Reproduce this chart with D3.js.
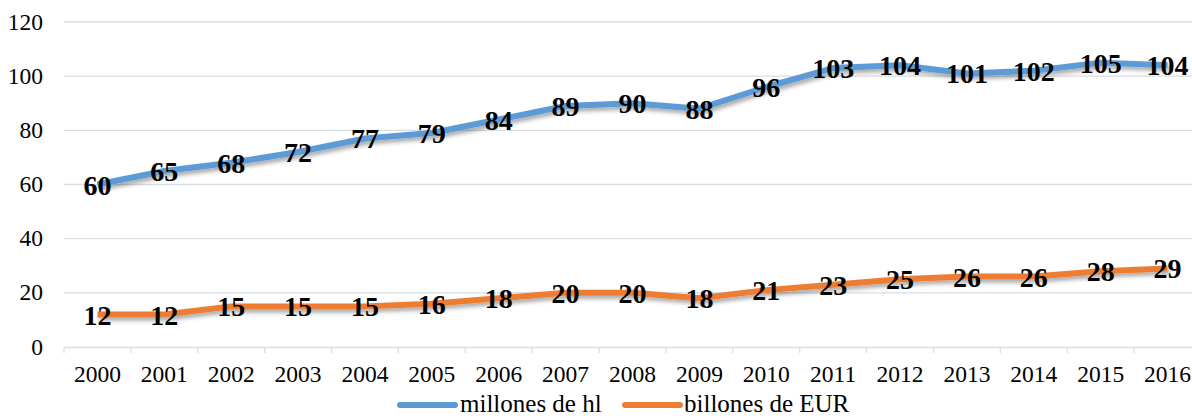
<!DOCTYPE html>
<html><head><meta charset="utf-8">
<script src="https://cdn.jsdelivr.net/npm/d3@7"></script>
<style>body{margin:0;background:#fff}svg{display:block}text{font-family:"Liberation Serif","Times New Roman",serif}</style>
</head><body>
<svg id="c" width="1192" height="418"></svg>
<script>
const years = ["2000","2001","2002","2003","2004","2005","2006","2007","2008","2009","2010","2011","2012","2013","2014","2015","2016"];
const millonesHl = [60,65,68,72,77,79,84,89,90,88,96,103,104,101,102,105,104];
const billonesEur = [12,12,15,15,15,16,18,20,20,18,21,23,25,26,26,28,29];
const yTicks = [0,20,40,60,80,100,120];
const seriesNames = ["millones de hl","billones de EUR"];
const colors = ["#5B9BD5","#ED7D31"];

const svg = d3.select("#c");
const font = "Liberation Serif, Times New Roman, serif";
const x = d3.scaleBand().domain(years).range([64,1201]);
const y = d3.scaleLinear().domain([0,120]).range([347,22]);

const defs = svg.append("defs");
const f = defs.append("filter").attr("id","sh").attr("x","-5%").attr("y","-50%").attr("width","110%").attr("height","200%");
f.append("feDropShadow").attr("dx",2).attr("dy",3).attr("stdDeviation",2).attr("flood-color","#000").attr("flood-opacity",0.35);

// gridlines
svg.append("g").selectAll("line").data(yTicks.filter(d=>d>0)).join("line")
  .attr("x1",64).attr("x2",1192).attr("y1",d=>y(d)).attr("y2",d=>y(d))
  .attr("stroke","#D9DEE6").attr("stroke-width",1.3);

// y axis labels
const ya = svg.append("g").attr("transform","translate(64,0)")
  .call(d3.axisLeft(y).tickValues(yTicks).tickSize(0).tickPadding(21));
ya.attr("font-family",null);
ya.select(".domain").remove();
ya.selectAll("text").style("font-family",font).attr("font-size",23.5).attr("fill","#000").attr("dy","0.3em");

// x axis
const xa = svg.append("g").attr("transform",`translate(0,${y(0)})`)
  .call(d3.axisBottom(x).tickSize(0).tickPadding(18));
xa.attr("font-family",null);
xa.select(".domain").attr("stroke","#D9DEE6").attr("stroke-width",1.3);
xa.selectAll("text").style("font-family",font).attr("font-size",23.5).attr("fill","#000");
const bounds = years.map(d=>x(d)).concat([x.range()[1]]);
svg.append("g").selectAll("line").data(bounds).join("line")
  .attr("x1",d=>d).attr("x2",d=>d).attr("y1",y(0)).attr("y2",y(0)+6)
  .attr("stroke","#D9DEE6").attr("stroke-width",1.3);

const cx = d => x(d) + x.bandwidth()/2;
const line = d3.line().x((d,i)=>cx(years[i])).y(d=>y(d));
[millonesHl,billonesEur].forEach((s,k)=>{
  svg.append("path").datum(s).attr("d",line).attr("fill","none")
    .attr("stroke",colors[k]).attr("stroke-width",6).attr("stroke-linejoin","round")
    .attr("filter","url(#sh)");
});
[millonesHl,billonesEur].forEach((s,k)=>{
  svg.append("g").selectAll("text").data(s).join("text")
    .attr("x",(d,i)=>cx(years[i])).attr("y",d=>y(d)+10)
    .attr("text-anchor","middle").style("font-family",font).attr("font-weight","bold")
    .attr("font-size",28).attr("fill","#000").text(d=>d);
});

// legend
const lg = [{x:400,tx:460},{x:625,tx:684}];
lg.forEach((p,k)=>{
  svg.append("line").attr("x1",p.x).attr("x2",p.x+55).attr("y1",405).attr("y2",405)
    .attr("stroke",colors[k]).attr("stroke-width",6).attr("stroke-linecap","round");
  svg.append("text").attr("x",p.tx).attr("y",412).style("font-family",font).attr("font-size",25)
    .attr("fill","#000").text(seriesNames[k]);
});
</script>
</body></html>
